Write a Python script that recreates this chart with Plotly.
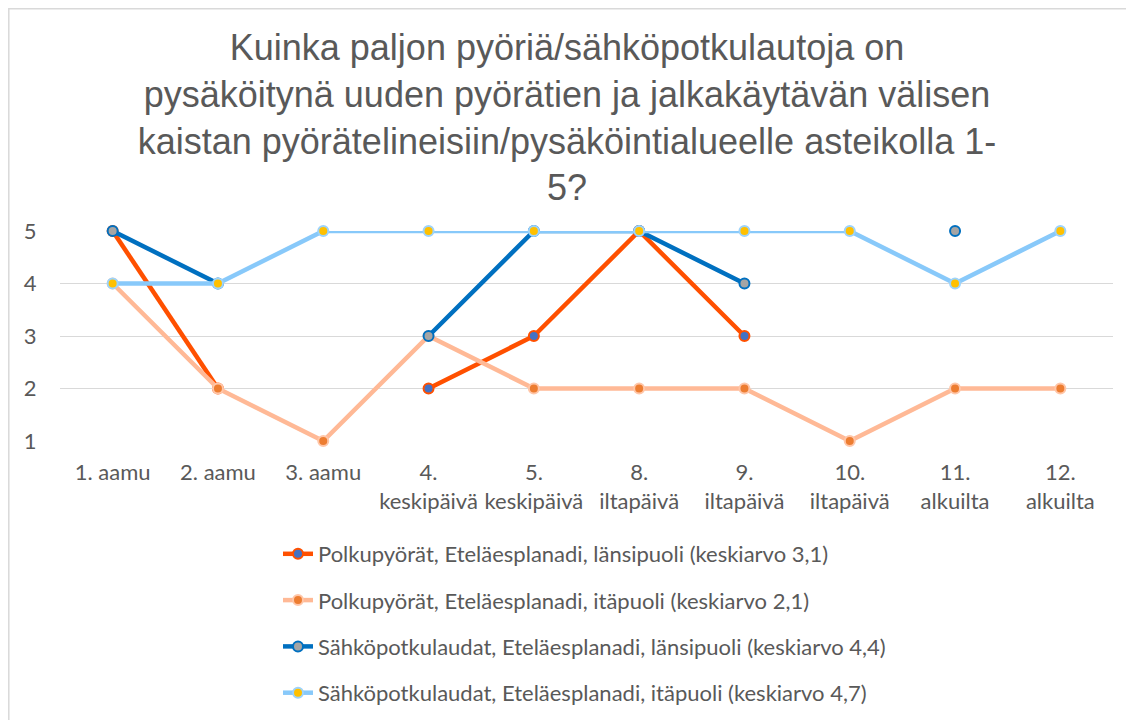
import plotly.graph_objects as go

categories = ["1. aamu", "2. aamu", "3. aamu", "4.<br>keskipäivä", "5.<br>keskipäivä",
              "8.<br>iltapäivä", "9.<br>iltapäivä", "10.<br>iltapäivä", "11.<br>alkuilta", "12.<br>alkuilta"]

series_names = [
    "Polkupyörät, Eteläesplanadi, länsipuoli (keskiarvo 3,1)",
    "Polkupyörät, Eteläesplanadi, itäpuoli (keskiarvo 2,1)",
    "Sähköpotkulaudat, Eteläesplanadi, länsipuoli (keskiarvo 4,4)",
    "Sähköpotkulaudat, Eteläesplanadi, itäpuoli (keskiarvo 4,7)",
]
polku_lansi = [5, 2, None, 2, 3, 5, 3, None, None, None]
polku_ita = [4, 2, 1, 3, 2, 2, 2, 1, 2, 2]
sahko_lansi = [5, 4, None, 3, 5, 5, 4, None, 5, None]
sahko_ita = [4, 4, 5, 5, 5, 5, 5, 5, 4, 5]

y_ticks = [1, 2, 3, 4, 5]

line_colors = ["#FF5000", "#FFB996", "#0070C0", "#88C9FA"]
marker_fills = ["#4472C4", "#ED7D31", "#A5A5A5", "#FFC000"]
marker_borders = ["#FF5000", "#FFC6A8", "#0070C0", "#9DD3FB"]

all_series = [polku_lansi, polku_ita, sahko_lansi, sahko_ita]

# page body has an 8px margin; the figure is placed at (8, 8)
OFF = 8
W, H = 1134 - OFF, 720 - OFF
L = 60 - OFF
T = 231 - OFF
R = W - (1113 - OFF)
B = H - (441 - OFF)
pw, ph = W - L - R, H - T - B

def px_x(x):
    return (x - OFF - L) / pw

def px_y(y):
    return (H - B - (y - OFF)) / ph

fig = go.Figure()
for i, vals in enumerate(all_series):
    fig.add_trace(go.Scatter(
        x=categories, y=vals, name=series_names[i],
        mode="lines+markers", connectgaps=False, cliponaxis=False,
        legendgroup=f"g{i}",
        line=dict(color=line_colors[i], width=4.5),
        marker=dict(size=10, color=marker_fills[i],
                    line=dict(color=marker_borders[i], width=2)),
    ))

font_axis = "Lato, Roboto, sans-serif"
fig.update_layout(
    width=W, height=H,
    margin=dict(l=L, r=R, t=T, b=B, autoexpand=False),
    paper_bgcolor="white", plot_bgcolor="white",
    title=dict(
        text="Kuinka paljon pyöriä/sähköpotkulautoja on<br>pysäköitynä uuden pyörätien ja jalkakäytävän välisen<br>kaistan pyörätelineisiin/pysäköintialueelle asteikolla 1-<br>5?",
        x=(567 - OFF) / W, xref="container", xanchor="center",
        y=1 - 52 / H, yref="container", yanchor="top",
        font=dict(family="Liberation Sans, Arial, sans-serif", size=36, color="#595959"),
    ),
    xaxis=dict(
        type="category", categoryorder="array", categoryarray=categories,
        range=[-0.5, len(categories) - 0.5],
        showgrid=False, showline=False, zeroline=False,
        ticks="outside", ticklen=12, tickcolor="rgba(0,0,0,0)",
        tickfont=dict(family=font_axis, size=22, color="#595959"),
    ),
    yaxis=dict(
        range=[1, 5], tickvals=y_ticks,
        showgrid=True, gridcolor="#D9D9D9", gridwidth=1.3,
        showline=False, zeroline=False,
        ticks="outside", ticklen=18, tickcolor="rgba(0,0,0,0)",
        tickfont=dict(family=font_axis, size=22, color="#595959"),
    ),
    legend=dict(
        orientation="v", x=px_x(278), xanchor="left", xref="paper",
        y=1 - (533 - OFF) / H, yanchor="top", yref="container",
        traceorder="grouped", tracegroupgap=14.7,
        font=dict(family=font_axis, size=22, color="#595959"),
        bgcolor="rgba(0,0,0,0)",
    ),
    shapes=[dict(
        type="rect", xref="paper", yref="paper",
        x0=px_x(OFF + 0.8), x1=px_x(1200), y0=px_y(OFF + 0.8), y1=px_y(800),
        line=dict(color="#D9D9D9", width=1.5), fillcolor="rgba(0,0,0,0)", layer="below",
    )],
)

fig.write_html("out.html")
